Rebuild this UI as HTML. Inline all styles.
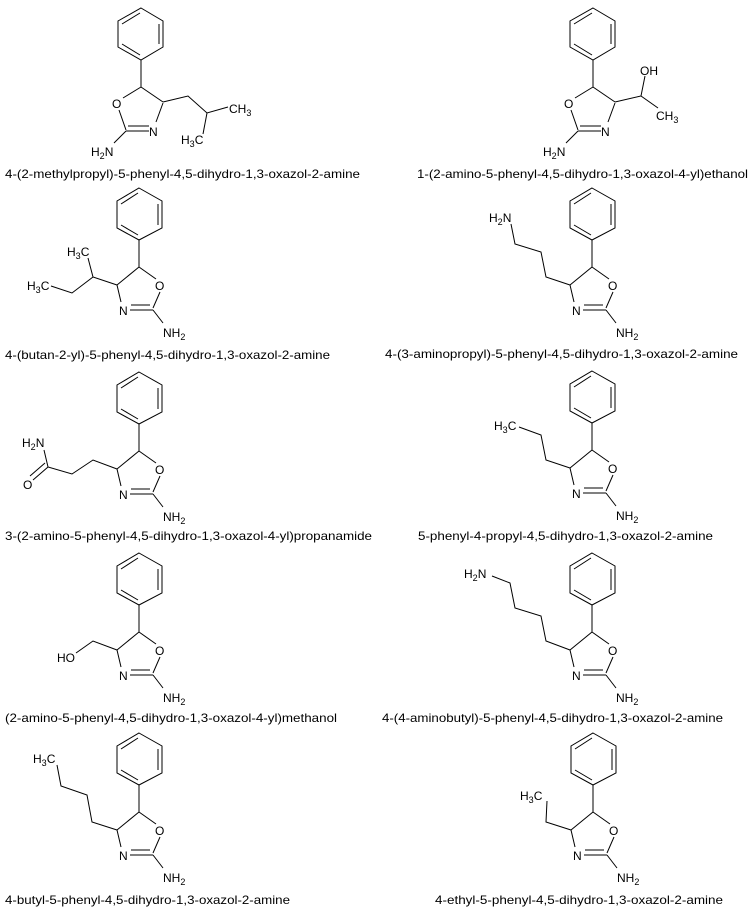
<!DOCTYPE html>
<html><head><meta charset="utf-8"><style>
html,body{margin:0;padding:0;background:#fff;}
svg{display:block;}
text{font-family:"Liberation Sans",sans-serif;font-size:12px;fill:#000;}
.l{font-size:12px;}
line,polyline,polygon{stroke:#000;stroke-width:1;fill:none;}
</style></head><body>
<svg width="756" height="911" viewBox="0 0 756 911" xmlns="http://www.w3.org/2000/svg">
<defs>
<g id="A">
<polygon points="141,8 163,21 163,47 141,60 118,47 118,21"/>
<line x1="122" y1="24" x2="140" y2="13"/>
<line x1="159" y1="24" x2="159" y2="44"/>
<line x1="122" y1="44" x2="140" y2="55"/>
<line x1="141" y1="60" x2="141" y2="87"/>
<line x1="141" y1="87" x2="123" y2="98"/>
<line x1="119" y1="110" x2="126" y2="130"/>
<line x1="126" y1="131" x2="149" y2="131"/>
<line x1="128" y1="126" x2="149" y2="126"/>
<line x1="156" y1="122" x2="163" y2="103"/>
<line x1="163" y1="102" x2="141" y2="87"/>
<line x1="126" y1="131" x2="114" y2="143"/>
<text x="112" y="108">O</text>
<text x="149" y="136">N</text>
<text x="91" y="156">H<tspan font-size="9" dy="3">2</tspan><tspan dy="-3">N</tspan></text>
</g>
<g id="B">
<polygon points="139,188 162,201 162,228 139,240 117,228 117,201"/>
<line x1="121" y1="204" x2="138" y2="193"/>
<line x1="158" y1="204" x2="158" y2="225"/>
<line x1="121" y1="225" x2="138" y2="235"/>
<line x1="139" y1="240" x2="139" y2="267"/>
<line x1="139" y1="267" x2="156" y2="279"/>
<line x1="160" y1="292" x2="153" y2="308"/>
<line x1="130" y1="310" x2="153" y2="310"/>
<line x1="131" y1="305" x2="150" y2="305"/>
<line x1="121" y1="302" x2="117" y2="285"/>
<line x1="117" y1="285" x2="139" y2="267"/>
<line x1="153" y1="310" x2="163" y2="323"/>
<text x="155" y="290">O</text>
<text x="119" y="315">N</text>
<text x="163" y="337">NH<tspan font-size="9" dy="3">2</tspan></text>
</g>
</defs>

<!-- Row 1 -->
<use href="#A"/>
<polyline points="163,102 188,96 207,113 228,107"/>
<line x1="207" y1="113" x2="203" y2="134"/>
<text x="229" y="113">CH<tspan font-size="9" dy="3">3</tspan></text>
<text x="181" y="144">H<tspan font-size="9" dy="3">3</tspan><tspan dy="-3">C</tspan></text>
<text class="l" x="5" y="178" textLength="355" lengthAdjust="spacingAndGlyphs">4-(2-methylpropyl)-5-phenyl-4,5-dihydro-1,3-oxazol-2-amine</text>

<use href="#A" transform="translate(452,0)"/>
<polyline points="615,102 641,96 645,76"/>
<line x1="641" y1="96" x2="658" y2="108"/>
<text x="640" y="75">OH</text>
<text x="656" y="120">CH<tspan font-size="9" dy="3">3</tspan></text>
<text class="l" x="417" y="178" textLength="331" lengthAdjust="spacingAndGlyphs">1-(2-amino-5-phenyl-4,5-dihydro-1,3-oxazol-4-yl)ethanol</text>

<!-- Row 2 -->
<use href="#B"/>
<polyline points="117,285 93,277 88,258"/>
<polyline points="93,277 72,293 51,286"/>
<text x="67" y="256">H<tspan font-size="9" dy="3">3</tspan><tspan dy="-3">C</tspan></text>
<text x="27" y="290">H<tspan font-size="9" dy="3">3</tspan><tspan dy="-3">C</tspan></text>
<text class="l" x="5" y="359" textLength="325" lengthAdjust="spacingAndGlyphs">4-(butan-2-yl)-5-phenyl-4,5-dihydro-1,3-oxazol-2-amine</text>

<use href="#B" transform="translate(453,0)"/>
<polyline points="570,285 546,277 541,252 515,244 511,224"/>
<text x="489" y="222">H<tspan font-size="9" dy="3">2</tspan><tspan dy="-3">N</tspan></text>
<text class="l" x="385" y="358" textLength="353" lengthAdjust="spacingAndGlyphs">4-(3-aminopropyl)-5-phenyl-4,5-dihydro-1,3-oxazol-2-amine</text>

<!-- Row 3 -->
<use href="#B" transform="translate(0,184)"/>
<polyline points="117,469 93,460 72,474 48,467 44,450"/>
<line x1="48" y1="467" x2="33" y2="480"/>
<line x1="45" y1="463" x2="30" y2="476"/>
<text x="22" y="447">H<tspan font-size="9" dy="3">2</tspan><tspan dy="-3">N</tspan></text>
<text x="23" y="489">O</text>
<text class="l" x="5" y="540" textLength="367" lengthAdjust="spacingAndGlyphs">3-(2-amino-5-phenyl-4,5-dihydro-1,3-oxazol-4-yl)propanamide</text>

<use href="#B" transform="translate(453,183)"/>
<polyline points="570,468 546,460 541,435 519,427"/>
<text x="494" y="430">H<tspan font-size="9" dy="3">3</tspan><tspan dy="-3">C</tspan></text>
<text class="l" x="418" y="540" textLength="295" lengthAdjust="spacingAndGlyphs">5-phenyl-4-propyl-4,5-dihydro-1,3-oxazol-2-amine</text>

<!-- Row 4 -->
<use href="#B" transform="translate(0,365)"/>
<polyline points="117,650 93,641 76,653"/>
<text x="57" y="662">HO</text>
<text class="l" x="5" y="722" textLength="332" lengthAdjust="spacingAndGlyphs">(2-amino-5-phenyl-4,5-dihydro-1,3-oxazol-4-yl)methanol</text>

<use href="#B" transform="translate(453,365)"/>
<polyline points="570,650 546,641 541,616 515,608 510,583 492,576"/>
<text x="464" y="578">H<tspan font-size="9" dy="3">2</tspan><tspan dy="-3">N</tspan></text>
<text class="l" x="382" y="722" textLength="341" lengthAdjust="spacingAndGlyphs">4-(4-aminobutyl)-5-phenyl-4,5-dihydro-1,3-oxazol-2-amine</text>

<!-- Row 5 -->
<use href="#B" transform="translate(0,545)"/>
<polyline points="117,830 92,822 87,795 61,786 57,765"/>
<text x="33" y="763">H<tspan font-size="9" dy="3">3</tspan><tspan dy="-3">C</tspan></text>
<text class="l" x="5" y="904" textLength="285" lengthAdjust="spacingAndGlyphs">4-butyl-5-phenyl-4,5-dihydro-1,3-oxazol-2-amine</text>

<use href="#B" transform="translate(454,545)"/>
<polyline points="571,830 546,822 547,801"/>
<text x="520" y="800">H<tspan font-size="9" dy="3">3</tspan><tspan dy="-3">C</tspan></text>
<text class="l" x="435" y="904" textLength="288" lengthAdjust="spacingAndGlyphs">4-ethyl-5-phenyl-4,5-dihydro-1,3-oxazol-2-amine</text>
</svg>
</body></html>
